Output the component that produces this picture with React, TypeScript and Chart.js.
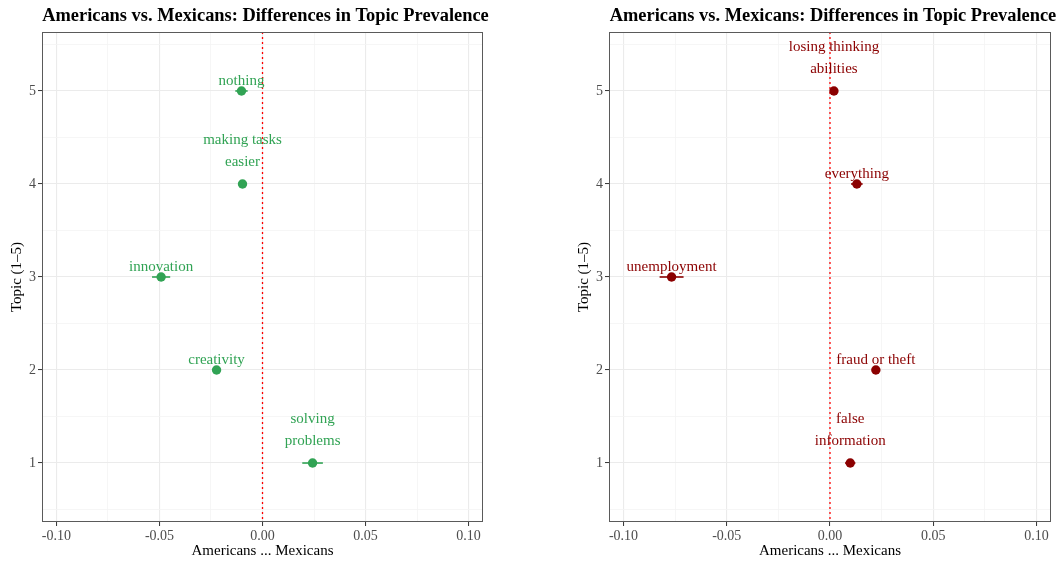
import React, { useEffect, useRef } from "react";
import { Chart, registerables } from "chart.js";

Chart.register(...registerables);

// Topic numbers on the y axis
const topics = [1, 2, 3, 4, 5];

// Panel 1: topics with positive sentiment
const leftLabels = ["solving problems", "creativity", "innovation", "making tasks easier", "nothing"];
const leftEstimates = [0.0243, -0.0223, -0.0492, -0.0097, -0.0102];
const leftErrors = [0.005, 0.0018, 0.0044, 0.0015, 0.003];

// Panel 2: topics with negative sentiment
const rightLabels = ["false information", "fraud or theft", "unemployment", "everything", "losing thinking abilities"];
const rightEstimates = [0.0098, 0.0222, -0.0767, 0.013, 0.0019];
const rightErrors = [0.0025, 0.0015, 0.0058, 0.0028, 0.0012];

// Label line breaks
const leftLabelLines = [["solving", "problems"], ["creativity"], ["innovation"], ["making tasks", "easier"], ["nothing"]];
const rightLabelLines = [["false", "information"], ["fraud or theft"], ["unemployment"], ["everything"], ["losing thinking", "abilities"]];

const xTicks = [-0.1, -0.05, 0, 0.05, 0.1];
const xMinor = [-0.075, -0.025, 0.025, 0.075];
const yMinor = [0.5, 1.5, 2.5, 3.5, 4.5, 5.5];

const chartTitle = "Americans vs. Mexicans: Differences in Topic Prevalence";
const xTitle = "Americans ... Mexicans";
const yTitle = "Topic (1\u20135)";

const FONT = "'Liberation Serif', 'Times New Roman', serif";

type PanelProps = {
  labels: string[];
  lines: string[][];
  estimates: number[];
  errors: number[];
  color: string;
  left: number;
  width: number;
  padRight: number;
};

function Panel({ lines, estimates, errors, color, left, width, padRight }: PanelProps) {
  const ref = useRef<HTMLCanvasElement | null>(null);

  useEffect(() => {
    if (!ref.current) return;

    const decor = {
      id: "decor",
      beforeDatasetsDraw(chart: any) {
        const { ctx, chartArea: a, scales } = chart;
        const xs = scales.x;
        ctx.save();
        // zero reference line
        const x0 = xs.getPixelForValue(0);
        ctx.strokeStyle = "#ff0000";
        ctx.lineWidth = 1.3;
        ctx.setLineDash([2, 3]);
        ctx.beginPath();
        ctx.moveTo(x0, a.top);
        ctx.lineTo(x0, a.bottom);
        ctx.stroke();
        ctx.setLineDash([]);
        // error bars
        ctx.strokeStyle = color;
        ctx.lineWidth = 1.6;
        topics.forEach((t, i) => {
          const y = scales.y.getPixelForValue(t);
          ctx.beginPath();
          ctx.moveTo(xs.getPixelForValue(estimates[i] - errors[i]), y);
          ctx.lineTo(xs.getPixelForValue(estimates[i] + errors[i]), y);
          ctx.stroke();
        });
        ctx.restore();
      },
      afterDatasetsDraw(chart: any) {
        const { ctx, chartArea: a, scales } = chart;
        ctx.save();
        // text labels above the points
        ctx.fillStyle = color;
        ctx.font = `15px ${FONT}`;
        ctx.textAlign = "center";
        ctx.textBaseline = "middle";
        topics.forEach((t, i) => {
          const px = scales.x.getPixelForValue(estimates[i]);
          const py = scales.y.getPixelForValue(t);
          const ls = lines[i];
          if (ls.length === 1) {
            ctx.fillText(ls[0], px, py - 9.5);
          } else {
            ls.forEach((s, j) => {
              ctx.fillText(s, px, py - 22 - (ls.length - 1 - j) * 22);
            });
          }
        });
        // panel border
        ctx.strokeStyle = "#5a5a5a";
        ctx.lineWidth = 1;
        ctx.strokeRect(a.left + 0.5, a.top + 0.5, a.right - a.left - 1, a.bottom - a.top - 1);
        // heading
        ctx.fillStyle = "#000";
        ctx.font = `bold 18.4px ${FONT}`;
        ctx.textBaseline = "middle";
        ctx.fillText(chartTitle, (a.left + a.right) / 2 + 3, 16);
        ctx.restore();
      },
    };

    const isMajorX = (v: number) => xTicks.some((t) => Math.abs(t - v) < 1e-9);
    const isMajorY = (v: number) => topics.some((t) => Math.abs(t - v) < 1e-9);

    const chart = new Chart(ref.current, {
      type: "scatter",
      data: {
        datasets: [
          {
            data: topics.map((t, i) => ({ x: estimates[i], y: t })),
            backgroundColor: color,
            borderColor: color,
            pointRadius: 4.7,
            pointHoverRadius: 4.7,
            borderWidth: 0,
          },
        ],
      },
      options: {
        animation: false,
        responsive: false,
        maintainAspectRatio: false,
        layout: { padding: { left: 8, top: 32, right: padRight, bottom: 3 } },
        plugins: { legend: { display: false }, tooltip: { enabled: false }, title: { display: false } },
        scales: {
          x: {
            type: "linear",
            min: -0.107,
            max: 0.107,
            afterBuildTicks: (s: any) => {
              s.ticks = [...xTicks, ...xMinor].sort((a, b) => a - b).map((v) => ({ value: v }));
            },
            afterFit: (s: any) => {
              s.height = 38;
            },
            border: { display: false },
            grid: {
              color: (c: any) => (isMajorX(c.tick.value) ? "#ebebeb" : "#f4f4f4"),
              lineWidth: (c: any) => (isMajorX(c.tick.value) ? 1.1 : 0.8),
              tickColor: (c: any) => (isMajorX(c.tick.value) ? "#333" : "rgba(0,0,0,0)"),
              tickLength: 4,
              tickWidth: 1,
            },
            ticks: {
              autoSkip: false,
              maxRotation: 0,
              padding: 2,
              color: "#4d4d4d",
              font: { family: FONT, size: 14 },
              callback: (v: any) => (isMajorX(Number(v)) ? Number(v).toFixed(2) : ""),
            },
            title: {
              display: true,
              text: xTitle,
              color: "#000",
              font: { family: FONT, size: 15 },
              padding: 0,
            },
          },
          y: {
            type: "linear",
            min: 0.366,
            max: 5.634,
            afterBuildTicks: (s: any) => {
              s.ticks = [...topics, ...yMinor].sort((a, b) => a - b).map((v) => ({ value: v }));
            },
            afterFit: (s: any) => {
              s.width = 34;
            },
            border: { display: false },
            grid: {
              color: (c: any) => (isMajorY(c.tick.value) ? "#ebebeb" : "#f4f4f4"),
              lineWidth: (c: any) => (isMajorY(c.tick.value) ? 1.1 : 0.8),
              tickColor: (c: any) => (isMajorY(c.tick.value) ? "#333" : "rgba(0,0,0,0)"),
              tickLength: 4,
              tickWidth: 1,
            },
            ticks: {
              autoSkip: false,
              padding: 2,
              color: "#4d4d4d",
              font: { family: FONT, size: 14 },
              callback: (v: any) => (isMajorY(Number(v)) ? String(v) : ""),
            },
            title: {
              display: true,
              text: yTitle,
              color: "#000",
              font: { family: FONT, size: 15 },
              padding: 0,
            },
          },
        },
      },
      plugins: [decor],
    } as any);

    return () => chart.destroy();
  }, []);

  return (
    <canvas
      ref={ref}
      width={width}
      height={563}
      style={{ position: "absolute", left, top: 0, width, height: 563 }}
    />
  );
}

export default function App() {
  return (
    <div style={{ position: "fixed", left: 0, top: 0, width: 1058, height: 563, background: "#fff", overflow: "hidden" }}>
      <Panel
        labels={leftLabels}
        lines={leftLabelLines}
        estimates={leftEstimates}
        errors={leftErrors}
        color="#31a354"
        left={0}
        width={567}
        padRight={84}
      />
      <Panel
        labels={rightLabels}
        lines={rightLabelLines}
        estimates={rightEstimates}
        errors={rightErrors}
        color="#8b0000"
        left={567}
        width={491}
        padRight={7}
      />
    </div>
  );
}
